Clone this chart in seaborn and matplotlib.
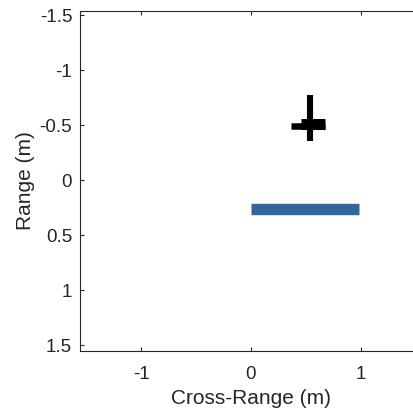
import matplotlib
matplotlib.use("Agg")
import matplotlib.pyplot as plt
import seaborn as sns
import pandas as pd

# Wall segment (blue bar)
wall_x = [0.0, 0.98]
wall_y = [0.262, 0.262]

# Target marker pieces: vertical stroke, horizontal stroke, solid block
target_vert_x = [0.539, 0.539]
target_vert_y = [-0.775, -0.361]
target_horiz_x = [0.364, 0.673]
target_horiz_y = [-0.494, -0.494]
target_block_x = [0.459, 0.673]
target_block_y = [-0.514, -0.514]

x_ticks = [-1, 0, 1]
x_tick_labels = ["-1", "0", "1"]
y_ticks = [-1.5, -1, -0.5, 0, 0.5, 1, 1.5]
y_tick_labels = ["-1.5", "-1", "-0.5", "0", "0.5", "1", "1.5"]

sns.set_style("ticks")
plt.rcParams["font.family"] = ["Liberation Sans", "DejaVu Sans"]
plt.rcParams["axes.unicode_minus"] = False

fig = plt.figure(figsize=(4.14, 4.12), dpi=100)
ax = fig.add_axes([80.5 / 414, 61 / 412, 341 / 414, 340 / 412])

def seg(xs, ys, color, lw):
    df = pd.DataFrame({"x": xs, "y": ys})
    sns.lineplot(data=df, x="x", y="y", ax=ax, color=color, linewidth=lw,
                 sort=False, estimator=None, solid_capstyle="butt")

seg(wall_x, wall_y, "#33679b", 8.2)
seg(target_vert_x, target_vert_y, "black", 4.4)
seg(target_horiz_x, target_horiz_y, "black", 4.7)
seg(target_block_x, target_block_y, "black", 7.9)

ax.set_xlim(-1.55, 1.55)
ax.set_ylim(1.55, -1.54)
ax.set_xticks(x_ticks)
ax.set_xticklabels(x_tick_labels)
ax.set_yticks(y_ticks)
ax.set_yticklabels(y_tick_labels)

gray = "#262626"
for s in ax.spines.values():
    s.set_color(gray)
    s.set_linewidth(0.8)
ax.spines["right"].set_visible(False)
ax.tick_params(direction="in", length=3, width=0.8, colors=gray,
               labelsize=13.5, top=True, right=False, pad=6)
ax.tick_params(axis="x", pad=11)
ax.set_xlabel("Cross-Range (m)", fontsize=15, color=gray, labelpad=4)
ax.set_ylabel("Range (m)", fontsize=15, color=gray, labelpad=3)

fig.savefig("out.png", dpi=100)
